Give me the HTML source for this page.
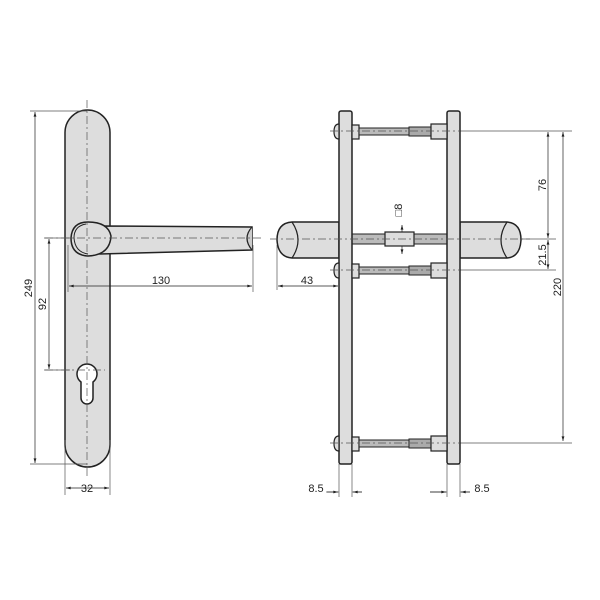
<!DOCTYPE html>
<html><head><style>body{margin:0;background:#fff}svg{display:block}text{font-family:"Liberation Sans",sans-serif;font-size:11px;fill:#222}</style></head><body>
<svg width="600" height="600" viewBox="0 0 600 600" xmlns="http://www.w3.org/2000/svg">
<defs>
<marker id="a" viewBox="0 0 10 6" refX="10" refY="3" markerWidth="8" markerHeight="4" orient="auto-start-reverse"><path d="M0,0 L10,3 L0,6z" fill="#222"/></marker>
<g id="screw">
<path d="M339,124 Q334,124 334,131.5 Q334,139 339,139z" fill="#ddd" stroke="#222" stroke-width="1.2"/>
<rect x="352" y="125" width="7" height="14" fill="#ddd" stroke="#222" stroke-width="1.2"/>
<rect x="359" y="128" width="50" height="7" fill="#bbb" stroke="#222" stroke-width="1"/>
<rect x="409" y="127" width="22" height="9" fill="#aaa" stroke="#222" stroke-width="1"/>
<rect x="431" y="124" width="16" height="15" fill="#ddd" stroke="#222" stroke-width="1.2"/>
</g>
</defs>
<!-- plate -->
<rect x="65" y="110" width="45" height="357" rx="22.5" fill="#ddd" stroke="#222" stroke-width="1.5"/>
<!-- lever -->
<path d="M100,226 L252,227 L252,250 L100,254z" fill="#ddd" stroke="#222" stroke-width="1.5"/>
<path d="M252,227 Q242,238 252,250" fill="#ccc" stroke="#222" stroke-width="1.2"/>
<path d="M88,222 Q108,222 111,236 Q110,255 88,256 Q71,255 71,238 Q72,222 88,222z" fill="#ddd" stroke="#222" stroke-width="1.5"/>
<path d="M86,224 Q74,226 74,238 Q75,252 88,254" fill="none" stroke="#222" stroke-width="1"/>
<!-- keyhole -->
<path d="M81,382 A10,10 0 1 1 93,382 L93,398 A6,6 0 0 1 81,398z" fill="#fff" stroke="#222" stroke-width="1.5"/>
<g stroke="#555" stroke-width="0.7" fill="none">
<line x1="30" y1="111" x2="87" y2="111"/><line x1="30" y1="464" x2="87" y2="464"/>
<line x1="44" y1="238" x2="70" y2="238"/><line x1="44" y1="370" x2="70" y2="370"/>
<line x1="68" y1="245" x2="68" y2="292"/><line x1="253" y1="245" x2="253" y2="292"/>
<line x1="65" y1="440" x2="65" y2="495"/><line x1="110" y1="440" x2="110" y2="495"/>
</g>
<g stroke="#222" stroke-width="0.7" marker-start="url(#a)" marker-end="url(#a)">
<line x1="35" y1="112" x2="35" y2="463"/>
<line x1="49" y1="239" x2="49" y2="369"/>
<line x1="69" y1="286" x2="252" y2="286"/>
<line x1="66" y1="488" x2="109" y2="488"/>
</g>
<text x="32" y="288" transform="rotate(-90 32 288)" text-anchor="middle">249</text>
<text x="46" y="304" transform="rotate(-90 46 304)" text-anchor="middle">92</text>
<text x="161" y="284" text-anchor="middle">130</text>
<text x="87" y="492" text-anchor="middle">32</text>
<g stroke="#555" stroke-width="0.7" stroke-dasharray="8,3,2,3" fill="none">
<line x1="87" y1="100" x2="87" y2="476"/>
<line x1="45" y1="238" x2="262" y2="238"/>
<line x1="45" y1="370" x2="105" y2="370"/>
</g>
<!-- right view -->
<g stroke="#555" stroke-width="0.7" fill="none">
<line x1="447" y1="131" x2="572" y2="131"/><line x1="414" y1="239" x2="556" y2="239"/>
<line x1="447" y1="270" x2="556" y2="270"/><line x1="447" y1="443" x2="572" y2="443"/>
<line x1="277" y1="245" x2="277" y2="290"/>
<line x1="339" y1="464" x2="339" y2="497"/><line x1="352" y1="464" x2="352" y2="497"/>
<line x1="447" y1="464" x2="447" y2="497"/><line x1="460" y1="464" x2="460" y2="497"/>
<line x1="326" y1="492" x2="339" y2="492"/><line x1="352" y1="492" x2="362" y2="492"/>
<line x1="430" y1="492" x2="447" y2="492"/><line x1="460" y1="492" x2="470" y2="492"/>
</g>
<g stroke="#222" stroke-width="0.7" marker-start="url(#a)" marker-end="url(#a)">
<line x1="548" y1="132" x2="548" y2="238"/>
<line x1="548" y1="240" x2="548" y2="269"/>
<line x1="563" y1="132" x2="563" y2="441"/>
<line x1="278" y1="286" x2="338" y2="286"/>
<line x1="402" y1="225" x2="402" y2="254"/>
</g>
<line x1="327" y1="492" x2="338" y2="492" stroke="#222" stroke-width="0.7" marker-end="url(#a)"/>
<line x1="362" y1="492" x2="353" y2="492" stroke="#222" stroke-width="0.7" marker-end="url(#a)"/>
<line x1="430" y1="492" x2="446" y2="492" stroke="#222" stroke-width="0.7" marker-end="url(#a)"/>
<line x1="470" y1="492" x2="461" y2="492" stroke="#222" stroke-width="0.7" marker-end="url(#a)"/>
<text x="546" y="185" transform="rotate(-90 546 185)" text-anchor="middle">76</text>
<text x="546" y="255" transform="rotate(-90 546 255)" text-anchor="middle">21.5</text>
<text x="561" y="287" transform="rotate(-90 561 287)" text-anchor="middle">220</text>
<text x="307" y="284" text-anchor="middle">43</text>
<text x="316" y="492" text-anchor="middle">8.5</text>
<text x="482" y="492" text-anchor="middle">8.5</text>
<text x="402" y="210" transform="rotate(-90 402 210)" text-anchor="middle">□8</text>
<!-- spindle -->
<rect x="352" y="234" width="95" height="10" fill="#bbb" stroke="#222" stroke-width="1"/>
<rect x="385" y="232" width="29" height="14" fill="#ddd" stroke="#222" stroke-width="1.2"/>
<!-- knobs -->
<path d="M339,222 L292,222 Q277,223 277,240 Q278,257 292,258 L339,258z" fill="#ddd" stroke="#222" stroke-width="1.5"/>
<path d="M292,222 Q304,240 292,258" fill="none" stroke="#222" stroke-width="1.2"/>
<path d="M460,222 L507,222 Q521,223 521,240 Q520,257 507,258 L460,258z" fill="#ddd" stroke="#222" stroke-width="1.5"/>
<path d="M507,222 Q495,240 507,258" fill="none" stroke="#222" stroke-width="1.2"/>
<!-- plates -->
<rect x="339" y="111" width="13" height="353" rx="2" fill="#ddd" stroke="#222" stroke-width="1.5"/>
<rect x="447" y="111" width="13" height="353" rx="2" fill="#ddd" stroke="#222" stroke-width="1.5"/>
<use href="#screw"/>
<use href="#screw" transform="translate(0,139)"/>
<use href="#screw" transform="translate(0,312)"/>
<g stroke="#555" stroke-width="0.7" stroke-dasharray="8,3,2,3" fill="none">
<line x1="330" y1="131" x2="460" y2="131"/>
<line x1="270" y1="239" x2="530" y2="239"/>
<line x1="330" y1="270" x2="460" y2="270"/>
<line x1="330" y1="443" x2="460" y2="443"/>
</g>
</svg>
</body></html>
